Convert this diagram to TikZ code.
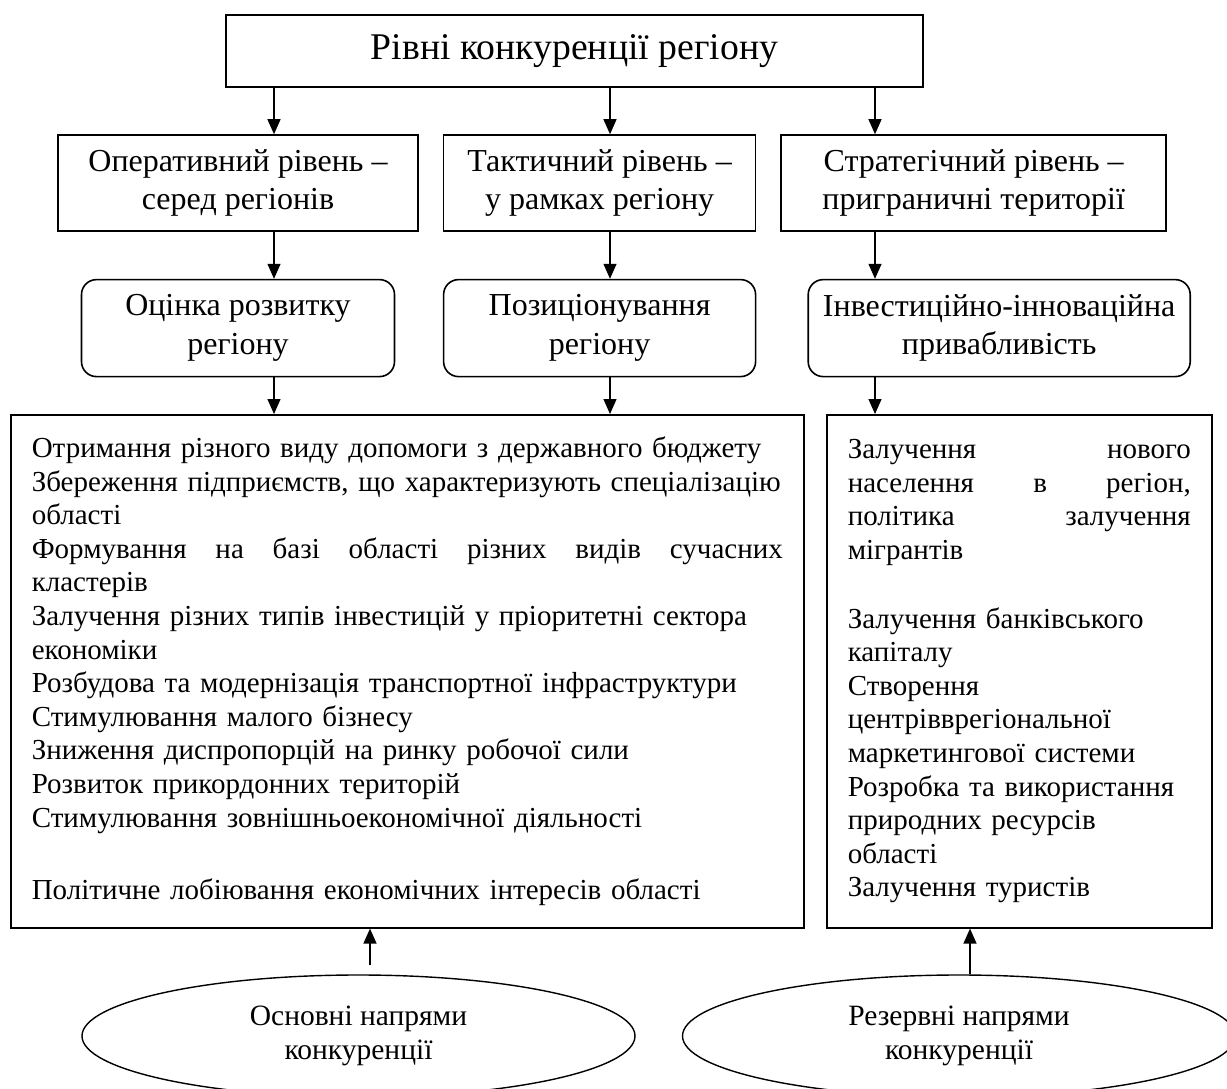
\documentclass[tikz,border=0pt]{standalone}
\usepackage{fontspec}
\setmainfont{Liberation Serif}
\usetikzlibrary{arrows.meta, positioning, shapes.geometric}

\tikzset{
  levelbox/.style={draw, line width=1.6pt, minimum height=96pt, align=center, inner sep=0pt,
    font=\fontsize{32}{38.5}\selectfont},
  roundbox/.style={levelbox, rounded corners=15pt, minimum height=97pt},
  listbox/.style={draw, line width=1.6pt, anchor=north west, minimum height=513pt, inner xsep=21pt,
    align=left, font=\fontsize{29}{33.6}\selectfont},
  direll/.style={draw, ellipse, line width=1.4pt, minimum width=553pt, minimum height=122pt,
    inner sep=0pt, align=center, font=\fontsize{29.5}{34}\selectfont},
  arr/.style={->, line width=1.3pt}
}

\begin{document}
\begin{tikzpicture}[x=1pt, y=-1pt, >={Triangle[length=15pt, width=13pt]}]
    \useasboundingbox (0,0) rectangle (1227,1089);

    % Levels
    \node[draw, line width=1.6pt, minimum width=697pt, minimum height=72pt,
          font=\fontsize{37.7}{45}\selectfont] (title) at (574.5,51) {Рівні конкуренції регіону};
    \node[levelbox, minimum width=360pt] (lev1) at (238,183) {Оперативний рівень –\\серед регіонів};
    \node[levelbox, minimum width=312pt, right=24pt of lev1] (lev2) {Тактичний рівень –\\у рамках регіону};
    \node[levelbox, minimum width=385pt, right=24pt of lev2] (lev3) {Стратегічний рівень –\\приграничні території};

    % Assessment
    \node[roundbox, minimum width=313pt, below=47pt of lev1] (rb1) {Оцінка розвитку\\регіону};
    \node[roundbox, minimum width=312pt, below=47pt of lev2] (rb2) {Позиціонування\\регіону};
    \node[roundbox, minimum width=382pt, below=47pt of lev3, xshift=25.5pt] (rb3) {Інвестиційно-інноваційна\\привабливість};

    % Directions
    \node[listbox, minimum width=793pt, text width=751pt] (main) at (10,414) {%
      Отримання різного виду допомоги з державного бюджету\\
      Збереження підприємств, що характеризують спеціалізацію\\
      області\\
      Формування\hfill на\hfill базі\hfill області\hfill різних\hfill видів\hfill сучасних\\
      кластерів\\
      Залучення різних типів інвестицій у пріоритетні сектора\\
      економіки\\
      Розбудова та модернізація транспортної інфраструктури\\
      Стимулювання малого бізнесу\\
      Зниження диспропорцій на ринку робочої сили\\
      Розвиток прикордонних територій\\
      Стимулювання зовнішньоекономічної діяльності\\[39pt]
      Політичне лобіювання економічних інтересів області};
    \node[listbox, minimum width=385pt, text width=343pt] (side) at (826,414) {%
      Залучення\hfill нового\\
      населення\hfill в\hfill регіон,\\
      політика\hfill залучення\\
      мігрантів\\[35pt]
      Залучення банківського\\
      капіталу\\
      Створення\\
      центрівврегіональної\\
      маркетингової системи\\
      Розробка та використання\\
      природних ресурсів\\
      області\\
      Залучення туристів};

    \node[direll] (ell1) at (358.5,1036) {Основні напрями\\конкуренції};
    \node[direll] (ell2) at (959,1036) {Резервні напрями\\конкуренції};

    % Arrow columns
    \coordinate (col1) at (274,0);
    \coordinate (col2) at (610,0);
    \coordinate (col3) at (875,0);
    \coordinate (col4) at (370,0);
    \coordinate (col5) at (970,0);

    \draw[arr] (title.south -| col1) -- (lev1.north -| col1);
    \draw[arr] (title.south -| col2) -- (lev2.north -| col2);
    \draw[arr] (title.south -| col3) -- (lev3.north -| col3);
    \draw[arr] (lev1.south -| col1) -- (rb1.north -| col1);
    \draw[arr] (lev2.south -| col2) -- (rb2.north -| col2);
    \draw[arr] (lev3.south -| col3) -- (rb3.north -| col3);
    \draw[arr] (rb1.south -| col1) -- (main.north -| col1);
    \draw[arr] (rb2.south -| col2) -- (main.north -| col2);
    \draw[arr] (rb3.south -| col3) -- (side.north -| col3);
    \draw[arr] (ell1.north -| col4) ++(0,-9) -- (main.south -| col4);
    \draw[arr] (ell2.north -| col5) -- (side.south -| col5);

\end{tikzpicture}
\end{document}
